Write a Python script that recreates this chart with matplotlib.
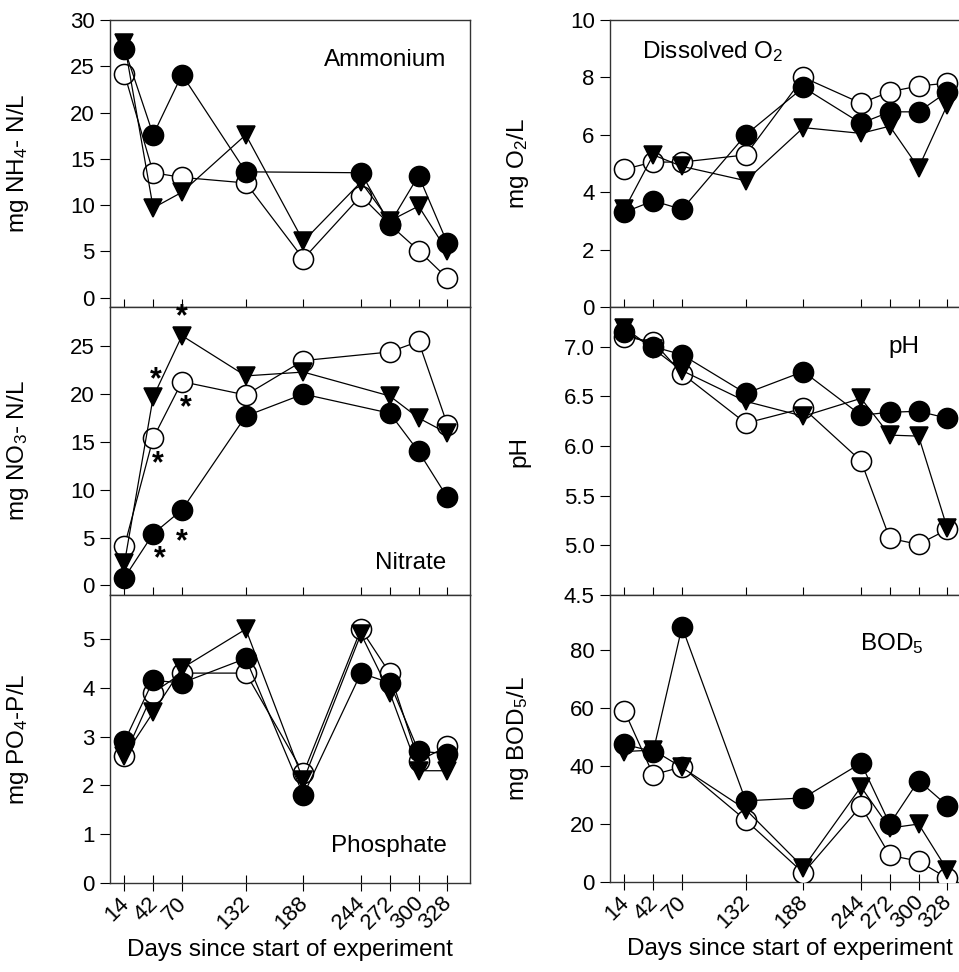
import matplotlib
matplotlib.use('Agg')
import matplotlib.pyplot as plt
import matplotlib.transforms as mtransforms
import numpy as np

plt.rcParams['font.family'] = ['Liberation Sans', 'DejaVu Sans']
plt.rcParams['mathtext.fontset'] = 'custom'
plt.rcParams['mathtext.rm'] = 'Liberation Sans'
plt.rcParams['mathtext.it'] = 'Liberation Sans'

days = [14, 42, 70, 132, 188, 244, 272, 300, 328]
nan = np.nan

# ammonium (mg NH4-N/L)
nh4_filled = [26.9, 17.6, 24.1, 13.6, nan, 13.5, 8.0, 13.2, 5.9]
nh4_open = [24.2, 13.5, 13.0, 12.4, 4.2, 11.0, 7.9, 5.1, 2.1]
nh4_tri = [27.5, 9.7, 11.4, 17.6, 6.1, 12.5, 8.3, 9.9, 5.0]

# nitrate (mg NO3-N/L)
no3_filled = [0.8, 5.4, 7.9, 17.7, 20.0, nan, 18.0, 14.0, 9.2]
no3_open = [4.1, 15.4, 21.3, 19.9, 23.5, nan, 24.4, 25.5, 16.8]
no3_tri = [2.3, 19.7, 26.1, 21.9, 22.3, nan, 19.8, 17.5, 15.9]

# phosphate (mg PO4-P/L)
po4_filled = [2.9, 4.15, 4.1, 4.6, 1.8, 4.3, 4.1, 2.7, 2.65]
po4_open = [2.6, 3.9, 4.3, 4.3, 2.25, 5.2, 4.3, 2.5, 2.8]
po4_tri = [2.6, 3.5, 4.4, 5.2, 2.1, 5.1, 3.9, 2.3, 2.3]

# dissolved oxygen (mg O2/L)
o2_filled = [3.3, 3.7, 3.4, 6.0, 7.65, 6.4, 6.8, 6.8, 7.5]
o2_open = [4.8, 5.05, 5.05, 5.3, 8.0, 7.1, 7.5, 7.7, 7.8]
o2_tri = [3.4, 5.3, 4.9, 4.4, 6.25, 6.05, 6.3, 4.85, 7.05]

# pH
ph_filled = [7.15, 7.0, 6.92, 6.53, 6.75, 6.31, 6.34, 6.35, 6.28]
ph_open = [7.1, 7.05, 6.73, 6.23, 6.38, 5.85, 5.07, 5.01, 5.16]
ph_tri = [7.19, 6.98, 6.76, 6.45, 6.3, 6.48, 6.11, 6.1, 5.17]

# BOD5 (mg BOD5/L)
bod_filled = [47.5, 45.0, 88.0, 28.0, 29.0, 41.0, 20.0, 35.0, 26.3]
bod_open = [59.0, 37.0, 39.7, 21.3, 3.1, 26.2, 9.2, 7.2, 1.3]
bod_tri = [45.0, 45.5, 39.5, 25.0, 5.0, 32.8, 18.6, 20.0, 4.1]

TICK_FS = 16
LAB_FS = 17.5


def draw(ax, y, marker, face, z):
    x = np.array(days, dtype=float)
    y = np.array(y, dtype=float)
    ok = ~np.isnan(y)
    ax.plot(x[ok], y[ok], '-', color='black', lw=0.9, marker=marker,
            markersize=14.5 if marker == 'o' else 13.5, markerfacecolor=face,
            markeredgecolor='black', markeredgewidth=1.1, zorder=z)


def panel(ax, filled, opened, tri, ylim, yticks, ylabel, bottom=False, fmt=None):
    draw(ax, opened, 'o', 'white', 3)
    draw(ax, tri, 'v', 'black', 4)
    draw(ax, filled, 'o', 'black', 5)
    ax.set_xlim(0, 350)
    ax.set_ylim(*ylim)
    ax.set_yticks(yticks)
    if fmt:
        ax.set_yticklabels([fmt % t for t in yticks])
    ax.set_xticks(days)
    ax.set_ylabel(ylabel, fontsize=LAB_FS)
    ax.tick_params(axis='y', direction='out', length=7, labelsize=TICK_FS, pad=4)
    if bottom:
        ax.tick_params(axis='x', direction='inout', length=12, labelsize=TICK_FS, pad=1)
        ax.set_xticklabels([str(d) for d in days], rotation=45, ha='right',
                           rotation_mode='anchor')
        shift = mtransforms.ScaledTranslation(-6 / 100, 0, fig.dpi_scale_trans)
        for lab in ax.get_xticklabels():
            lab.set_transform(lab.get_transform() + shift)
        ax.set_xlabel('Days since start of experiment', fontsize=LAB_FS, labelpad=4)
    else:
        ax.tick_params(axis='x', direction='in', length=6, labelbottom=False)
    for s in ax.spines.values():
        s.set_linewidth(1.0)
        s.set_color('#333333')


fig = plt.figure(figsize=(9.59, 9.72), dpi=100)
W, H = 959.0, 972.0


def make_ax(x0, x1, y0, y1):
    return fig.add_axes([x0 / W, 1 - y1 / H, (x1 - x0) / W, (y1 - y0) / H])


axL1 = make_ax(110, 470, 20, 307)
axL2 = make_ax(110, 470, 307, 595)
axL3 = make_ax(110, 470, 595, 883)
axR1 = make_ax(610, 970, 20, 307)
axR2 = make_ax(610, 970, 307, 595)
axR3 = make_ax(610, 970, 595, 882)

panel(axL1, nh4_filled, nh4_open, nh4_tri, (-1, 30), [0, 5, 10, 15, 20, 25, 30],
      'mg NH$_4$- N/L')
panel(axL2, no3_filled, no3_open, no3_tri, (-1, 29.1), [0, 5, 10, 15, 20, 25],
      'mg NO$_3$- N/L')
panel(axL3, po4_filled, po4_open, po4_tri, (0, 5.9), [0, 1, 2, 3, 4, 5],
      'mg PO$_4$-P/L', bottom=True)
panel(axR1, o2_filled, o2_open, o2_tri, (0, 10), [0, 2, 4, 6, 8, 10],
      'mg O$_2$/L')
panel(axR2, ph_filled, ph_open, ph_tri, (4.5, 7.4), [4.5, 5.0, 5.5, 6.0, 6.5, 7.0],
      'pH', fmt='%.1f')
panel(axR3, bod_filled, bod_open, bod_tri, (0, 99), [0, 20, 40, 60, 80],
      'mg BOD$_5$/L', bottom=True)

for ax in (axL1, axL2, axL3):
    ax.yaxis.set_label_coords(-0.22, 0.5)
for ax in (axR1, axR2, axR3):
    ax.yaxis.set_label_coords(-0.22, 0.5)

# panel names
axL1.text(0.935, 0.86, 'Ammonium', transform=axL1.transAxes, ha='right', va='center', fontsize=LAB_FS)
axL2.text(0.935, 0.11, 'Nitrate', transform=axL2.transAxes, ha='right', va='center', fontsize=LAB_FS)
axL3.text(0.935, 0.13, 'Phosphate', transform=axL3.transAxes, ha='right', va='center', fontsize=LAB_FS)
axR1.text(0.09, 0.89, 'Dissolved O$_2$', transform=axR1.transAxes, ha='left', va='center', fontsize=LAB_FS)
axR2.text(0.86, 0.86, 'pH', transform=axR2.transAxes, ha='right', va='center', fontsize=LAB_FS)
axR3.text(0.87, 0.83, 'BOD$_5$', transform=axR3.transAxes, ha='right', va='center', fontsize=LAB_FS)

# significance asterisks next to nitrate points at days 42 and 70
stars = [(no3_tri, 1, (2, 12)), (no3_tri, 2, (0, 13)),
         (no3_open, 1, (3, -19)), (no3_open, 2, (3, -19)),
         (no3_filled, 1, (5, -18)), (no3_filled, 2, (0, -23))]
for series, k, off in stars:
    axL2.annotate('*', (days[k], series[k]), xytext=off, textcoords='offset points',
                  ha='center', va='center', fontsize=22, fontweight='bold')

fig.savefig('out.png', dpi=100)
